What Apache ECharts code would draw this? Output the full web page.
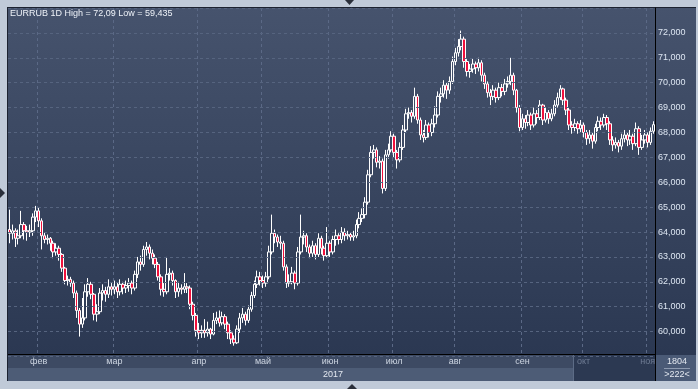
<!DOCTYPE html>
<html><head><meta charset="utf-8">
<script src="https://cdn.jsdelivr.net/npm/echarts@6/dist/echarts.min.js"></script>
<style>html,body{margin:0;padding:0;background:#c0cad8;overflow:hidden}#c{width:698px;height:389px}</style>
</head><body><div id="c"></div>
<script>
const opens = [
64.10,63.95,64.05,63.75,63.85,64.30,64.05,64.00,64.05,64.60,
64.85,64.45,63.85,63.70,63.75,63.55,63.20,63.35,63.10,62.55,
62.05,62.10,61.95,61.55,60.85,60.30,60.55,61.60,61.90,61.50,
60.70,60.80,61.55,61.65,61.50,61.80,61.70,61.80,61.60,61.90,
61.75,61.85,61.95,61.75,62.30,62.80,62.70,63.30,63.40,63.15,
62.95,62.70,62.20,61.70,61.60,62.30,62.35,62.05,61.60,61.75,
61.70,61.80,61.75,61.10,60.65,60.05,59.95,60.05,59.95,60.10,
59.90,60.45,60.55,60.35,60.60,60.30,59.95,59.70,59.55,60.10,
60.55,60.70,60.45,60.90,61.45,61.90,62.20,62.05,61.95,62.20,
63.20,63.95,63.80,63.60,63.55,62.60,61.95,62.00,62.35,61.95,
63.20,63.80,63.85,63.40,63.15,63.45,63.10,63.75,63.35,63.05,
63.55,63.20,63.70,63.85,63.70,64.00,63.85,63.90,63.80,63.85,
64.30,64.55,64.70,65.20,66.30,67.20,67.30,66.80,66.85,65.75,
67.10,67.30,67.85,67.20,66.90,67.40,68.10,68.75,68.80,68.65,
69.45,68.50,67.90,67.80,68.30,68.00,68.35,68.70,69.45,69.55,
69.90,69.70,70.05,70.85,71.20,71.45,71.75,70.85,70.45,70.55,
70.75,70.60,70.80,70.30,69.95,69.60,69.45,69.70,69.40,69.80,
69.65,69.95,70.05,70.30,69.70,69.00,68.20,68.55,68.40,68.70,
68.30,68.75,68.60,69.10,68.50,68.80,68.55,68.75,69.10,69.40,
69.75,69.30,68.90,68.30,68.20,68.35,68.15,68.30,68.00,67.75,
67.90,67.65,68.20,68.45,68.30,68.60,68.35,67.70,67.50,67.60,
67.45,67.75,67.90,67.70,67.85,67.55,68.15,67.40,67.70,67.90,
67.60,68.05];
const closes = [
63.95,64.05,63.75,63.85,64.30,64.05,64.00,64.05,64.60,64.85,
64.45,63.85,63.70,63.75,63.55,63.20,63.35,63.10,62.55,62.05,
62.10,61.95,61.55,60.85,60.30,60.55,61.60,61.90,61.50,60.70,
60.80,61.55,61.65,61.50,61.80,61.70,61.80,61.60,61.90,61.75,
61.85,61.95,61.75,62.30,62.80,62.70,63.30,63.40,63.15,62.95,
62.70,62.20,61.70,61.60,62.30,62.35,62.05,61.60,61.75,61.70,
61.80,61.75,61.10,60.65,60.05,59.95,60.05,59.95,60.10,59.90,
60.45,60.55,60.35,60.60,60.30,59.95,59.70,59.55,60.10,60.55,
60.70,60.45,60.90,61.45,61.90,62.20,62.05,61.95,62.20,63.20,
63.95,63.80,63.60,63.55,62.60,61.95,62.00,62.35,61.95,63.20,
63.80,63.85,63.40,63.15,63.45,63.10,63.75,63.35,63.05,63.55,
63.20,63.70,63.85,63.70,64.00,63.85,63.90,63.80,63.85,64.30,
64.55,64.70,65.20,66.30,67.20,67.30,66.80,66.85,65.75,67.10,
67.30,67.85,67.20,66.90,67.40,68.10,68.75,68.80,68.65,69.45,
68.50,67.90,67.80,68.30,68.00,68.35,68.70,69.45,69.55,69.90,
69.70,70.05,70.85,71.20,71.45,71.75,70.85,70.45,70.55,70.75,
70.60,70.80,70.30,69.95,69.60,69.45,69.70,69.40,69.80,69.65,
69.95,70.05,70.30,69.70,69.00,68.20,68.55,68.40,68.70,68.30,
68.75,68.60,69.10,68.50,68.80,68.55,68.75,69.10,69.40,69.75,
69.30,68.90,68.30,68.20,68.35,68.15,68.30,68.00,67.75,67.90,
67.65,68.20,68.45,68.30,68.60,68.35,67.70,67.50,67.60,67.45,
67.75,67.90,67.70,67.85,67.55,68.15,67.40,67.70,67.90,67.60,
68.05,68.313];
const lows = [
63.55,63.70,63.40,63.50,63.75,63.70,63.65,63.80,63.85,64.40,
64.20,63.30,63.55,63.50,63.25,62.95,63.05,62.85,62.40,61.90,
61.85,61.80,61.35,60.55,59.80,60.15,60.45,61.40,61.30,60.45,
60.40,60.70,61.25,61.20,61.35,61.45,61.50,61.35,61.45,61.50,
61.55,61.60,61.50,61.65,62.15,62.45,62.60,63.05,62.90,62.70,
62.55,62.05,61.45,61.40,61.50,62.05,61.85,61.35,61.40,61.50,
61.55,61.55,60.90,60.45,59.80,59.70,59.75,59.75,59.80,59.70,
59.85,60.30,60.20,60.25,60.10,59.70,59.50,59.435,59.50,59.95,
60.35,60.25,60.35,60.80,61.35,61.75,61.85,61.75,61.80,62.10,
63.10,63.55,63.40,63.30,62.45,61.75,61.80,61.90,61.70,61.85,
63.10,63.50,63.20,62.95,63.00,62.90,63.00,63.10,62.85,62.95,
63.00,63.10,63.45,63.50,63.55,63.65,63.70,63.65,63.65,63.75,
64.15,64.40,64.55,65.10,66.20,66.95,66.60,66.55,65.55,65.65,
66.95,67.20,67.00,66.55,66.80,67.30,68.00,68.55,68.40,68.55,
68.35,67.70,67.60,67.70,67.80,67.85,68.20,68.60,69.20,69.40,
69.35,69.55,69.95,70.70,71.05,71.30,70.60,70.25,70.20,70.40,
70.35,70.45,70.05,69.75,69.40,69.10,69.30,69.20,69.30,69.45,
69.50,69.80,69.90,69.50,68.80,68.05,68.10,68.15,68.25,68.10,
68.20,68.35,68.50,68.30,68.40,68.35,68.45,68.65,69.00,69.30,
69.10,68.70,68.10,67.95,68.05,67.95,68.00,67.80,67.50,67.55,
67.35,67.55,68.05,68.10,68.20,68.10,67.50,67.25,67.35,67.20,
67.30,67.60,67.45,67.50,67.30,67.45,67.10,67.30,67.55,67.40,
67.50,67.95];
const highs = [
64.90,64.30,64.15,64.10,64.85,64.40,64.25,64.30,64.75,65.05,
65.00,64.55,64.00,63.90,63.80,63.65,63.55,63.45,63.15,62.60,
62.25,62.20,62.05,61.65,60.95,61.35,61.90,62.15,62.00,61.55,
61.10,61.75,61.90,61.80,62.10,61.95,62.05,61.95,62.10,62.00,
62.05,62.15,62.05,62.45,63.00,63.05,63.45,63.60,63.50,63.30,
63.10,62.80,62.30,61.95,63.00,62.55,62.45,62.10,62.00,61.90,
62.35,61.95,61.85,61.20,60.75,60.35,60.25,60.50,60.40,60.15,
60.75,60.80,60.85,60.80,60.70,60.40,60.05,59.85,60.25,60.75,
60.95,60.80,61.05,61.60,62.05,62.45,62.40,62.25,62.40,63.45,
64.70,64.10,63.90,63.85,63.65,62.70,62.30,62.60,62.45,63.40,
64.70,64.05,63.95,63.50,63.65,63.55,63.95,63.85,63.45,64.20,
63.65,63.85,64.10,63.95,64.20,64.15,64.05,64.00,64.05,64.50,
64.80,64.95,65.40,66.50,67.45,67.50,67.40,67.05,66.95,67.30,
67.55,68.05,67.95,67.30,67.60,68.30,68.95,69.00,68.90,69.80,
69.55,68.60,68.10,68.50,68.40,68.55,69.05,69.65,69.80,70.10,
70.00,70.25,71.05,71.40,71.75,72.09,71.85,70.95,70.75,70.95,
70.85,71.00,70.90,70.40,70.05,69.75,69.90,69.80,70.00,69.95,
70.15,70.25,71.00,70.40,69.75,69.10,68.75,68.70,68.90,68.80,
69.00,68.90,69.30,69.15,69.00,68.90,68.95,69.30,69.60,69.90,
69.80,69.40,69.00,68.45,68.55,68.45,68.50,68.40,68.10,68.10,
68.00,68.35,68.65,68.60,68.75,68.70,68.45,67.85,67.80,67.70,
67.95,68.10,68.00,68.10,67.95,68.40,68.25,67.90,68.10,68.00,
68.20,68.45];
const monthLabels = ['фев','мар','апр','май','июн','июл','авг','сен','окт','ноя'];
const monthIdx = [10,36,65,87,110,132,153,176,197,219];
const dimMonths = ['окт','ноя'];
const yearLabel = '2017';
const titleText = 'EURRUB 1D High = 72,09 Low = 59,435';
const lastPrice = 68.313;
const lastPriceLabel = '68,313';
const barsInfo = ['1804', '>222<'];

const categories = opens.map((_, i) => String(i));
const candles = opens.map((o, i) => [o, closes[i], lows[i], highs[i]]);

const FONT = '"Liberation Sans", Arial, sans-serif';
const chart = echarts.init(document.getElementById('c'), null, {renderer: 'canvas'});
const labelFmt = v => {
  const k = monthIdx.indexOf(Number(v));
  if (k < 0) return '';
  const m = monthLabels[k];
  return dimMonths.includes(m) ? '{dim|' + m + '}' : m;
};
chart.setOption({
  backgroundColor: '#c0cad8',
  animation: false,
  grid: {left: 8, right: 43, top: 8, bottom: 32.5, show: false},
  xAxis: [{
    type: 'category', data: categories, boundaryGap: true, z: 1,
    axisLine: {show: false}, axisTick: {show: false}, axisLabel: {show: false},
    splitLine: {show: true, interval: i => monthIdx.includes(i), lineStyle: {color: '#5b6986', type: [3, 3], width: 1}}
  }, {
    type: 'category', data: categories, boundaryGap: true, position: 'bottom', z: 10,
    axisLine: {show: false}, axisTick: {show: false}, splitLine: {show: false},
    axisLabel: {show: true, interval: i => monthIdx.includes(i), formatter: labelFmt, margin: 1,
      fontSize: 9, color: '#cdd5e1', fontFamily: FONT,
      rich: {dim: {color: '#6f7c94', fontSize: 9, fontFamily: FONT}}}
  }],
  yAxis: {
    type: 'value', position: 'right', min: 59, max: 73, interval: 1, z: 10,
    axisLine: {show: true, lineStyle: {color: '#000', width: 1}},
    axisTick: {show: false},
    axisLabel: {margin: 3, fontSize: 9, color: '#dde6f2', fontFamily: FONT,
      formatter: v => (v >= 60 && v <= 72) ? v.toFixed(3).replace('.', ',') : ''},
    splitLine: {show: true, lineStyle: {color: '#56647f', type: [3, 3], width: 1}}
  },
  series: [{
    type: 'candlestick', data: candles, xAxisIndex: 0, barWidth: 3,
    itemStyle: {color: 'transparent', color0: '#f0103c', borderColor: '#ffffff', borderColor0: '#ffffff', borderWidth: 1},
    emphasis: {disabled: true},
    markLine: {
      silent: true, symbol: ['none', 'none'], lineStyle: {opacity: 0},
      label: {show: true, position: 'end', formatter: lastPriceLabel, backgroundColor: '#c8ccd3',
        color: '#111', fontSize: 9, fontFamily: FONT, padding: [1, 2, 0, 3], distance: 2},
      data: [{yAxis: lastPrice}]
    }
  }],
  graphic: [
    {type: 'rect', z: -10, shape: {x: 7, y: 7, width: 689, height: 348},
      style: {fill: new echarts.graphic.LinearGradient(0, 0, 0, 1, [{offset: 0, color: '#46536d'}, {offset: 1, color: '#2b3852'}])}},
    {type: 'rect', z: 5, shape: {x: 7, y: 354, width: 649, height: 14}, style: {fill: '#3d4a63'}},
    {type: 'rect', z: 5, shape: {x: 7, y: 368, width: 649, height: 13}, style: {fill: '#4d5c76'}},
    {type: 'rect', z: 5, shape: {x: 574, y: 355, width: 81, height: 26}, style: {fill: '#2c3952'}},
    {type: 'line', z: 6, shape: {x1: 573.5, y1: 355, x2: 573.5, y2: 381}, style: {stroke: '#5d6c86', lineWidth: 1}},
    {type: 'rect', z: 5, shape: {x: 656, y: 355, width: 40, height: 26}, style: {fill: '#4a5a76'}},
    {type: 'line', z: 6, shape: {x1: 7, y1: 354.5, x2: 656, y2: 354.5}, style: {stroke: '#000', lineWidth: 1}},
    {type: 'line', z: 6, shape: {x1: 655.5, y1: 354, x2: 655.5, y2: 381}, style: {stroke: '#000', lineWidth: 1}},
    {type: 'line', z: 6, shape: {x1: 7.5, y1: 7, x2: 7.5, y2: 381}, style: {stroke: '#1c2230', lineWidth: 1}},
    {type: 'line', z: 6, shape: {x1: 7, y1: 7.5, x2: 696, y2: 7.5}, style: {stroke: '#1c2230', lineWidth: 1}},
    {type: 'text', z: 12, x: 10, y: 9, style: {text: titleText, fill: '#eef2f8', font: '9px ' + FONT, textVerticalAlign: 'top'}},
    {type: 'text', z: 12, x: 343, y: 374.5, style: {text: yearLabel, fill: '#e3e8f0', font: '9px ' + FONT, textAlign: 'right', textVerticalAlign: 'middle'}},
    {type: 'text', z: 12, x: 677, y: 362, style: {text: barsInfo[0], fill: '#e3e8f0', font: '9px ' + FONT, textAlign: 'center', textVerticalAlign: 'middle'}},
    {type: 'line', z: 12, shape: {x1: 664, y1: 368.5, x2: 690, y2: 368.5}, style: {stroke: '#8d9ab0', lineWidth: 1}},
    {type: 'text', z: 12, x: 677, y: 375, style: {text: barsInfo[1], fill: '#e3e8f0', font: '9px ' + FONT, textAlign: 'center', textVerticalAlign: 'middle'}},
    {type: 'polygon', z: 12, shape: {points: [[345, 0], [354, 0], [349.5, 5]]}, style: {fill: '#2a2f3a'}},
    {type: 'polygon', z: 12, shape: {points: [[0, 188], [0, 198], [5, 193]]}, style: {fill: '#2a2f3a'}},
    {type: 'polygon', z: 12, shape: {points: [[347, 389], [357, 389], [352, 384]]}, style: {fill: '#2a2f3a'}}
  ]
});
</script></body></html>
